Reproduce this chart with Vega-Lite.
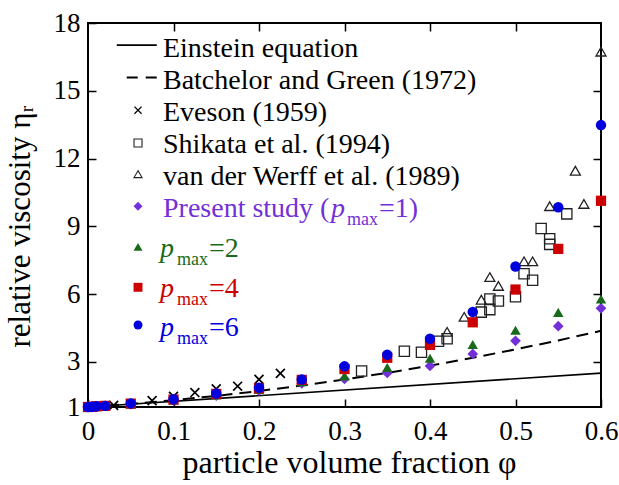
{
  "$schema": "https://vega.github.io/schema/vega-lite/v6.json",
  "width": 513,
  "height": 384,
  "autosize": "none",
  "padding": {"left": 88, "top": 23, "right": 18, "bottom": 78},
  "background": "white",
  "config": {
    "view": {"stroke": "black", "strokeWidth": 2},
    "font": "Liberation Serif",
    "axis": {
      "grid": false, "domain": false, "tickColor": "black", "tickWidth": 1.5, "tickSize": -8,
      "labelFont": "Liberation Serif", "labelFontSize": 27, "labelColor": "black",
      "labelFlush": false, "labelOverlap": false, "labelBound": false,
      "titleFont": "Liberation Serif", "titleFontSize": 31, "titleFontWeight": "normal", "titleColor": "black"
    }
  },
  "datasets": {
    "curves": [
      {"series": "Einstein", "phi": 0, "eta": 1},
      {"series": "Einstein", "phi": 0.6, "eta": 2.5},
      {"series": "Batchelor", "phi": 0, "eta": 1},
      {"series": "Batchelor", "phi": 0.05, "eta": 1.138},
      {"series": "Batchelor", "phi": 0.1, "eta": 1.302},
      {"series": "Batchelor", "phi": 0.15, "eta": 1.492},
      {"series": "Batchelor", "phi": 0.2, "eta": 1.708},
      {"series": "Batchelor", "phi": 0.25, "eta": 1.95},
      {"series": "Batchelor", "phi": 0.3, "eta": 2.218},
      {"series": "Batchelor", "phi": 0.35, "eta": 2.512},
      {"series": "Batchelor", "phi": 0.4, "eta": 2.832},
      {"series": "Batchelor", "phi": 0.45, "eta": 3.178},
      {"series": "Batchelor", "phi": 0.5, "eta": 3.55},
      {"series": "Batchelor", "phi": 0.55, "eta": 3.948},
      {"series": "Batchelor", "phi": 0.6, "eta": 4.372}
    ],
    "pts": [
      {"series": "Eveson", "phi": 0.03, "eta": 1.07},
      {"series": "Eveson", "phi": 0.075, "eta": 1.28},
      {"series": "Eveson", "phi": 0.1, "eta": 1.47},
      {"series": "Eveson", "phi": 0.125, "eta": 1.64},
      {"series": "Eveson", "phi": 0.15, "eta": 1.8},
      {"series": "Eveson", "phi": 0.175, "eta": 1.92},
      {"series": "Eveson", "phi": 0.2, "eta": 2.22},
      {"series": "Eveson", "phi": 0.225, "eta": 2.49},
      {"series": "Shikata", "phi": 0.32, "eta": 2.59},
      {"series": "Shikata", "phi": 0.37, "eta": 3.47},
      {"series": "Shikata", "phi": 0.39, "eta": 3.42},
      {"series": "Shikata", "phi": 0.41, "eta": 3.91},
      {"series": "Shikata", "phi": 0.42, "eta": 4.02},
      {"series": "Shikata", "phi": 0.46, "eta": 5.2},
      {"series": "Shikata", "phi": 0.47, "eta": 5.31},
      {"series": "Shikata", "phi": 0.47, "eta": 5.78},
      {"series": "Shikata", "phi": 0.48, "eta": 5.69},
      {"series": "Shikata", "phi": 0.5, "eta": 5.88},
      {"series": "Shikata", "phi": 0.51, "eta": 6.9},
      {"series": "Shikata", "phi": 0.52, "eta": 6.61},
      {"series": "Shikata", "phi": 0.53, "eta": 8.9},
      {"series": "Shikata", "phi": 0.54, "eta": 8.45},
      {"series": "Shikata", "phi": 0.54, "eta": 8.2},
      {"series": "Shikata", "phi": 0.56, "eta": 9.55},
      {"series": "Werff", "phi": 0.42, "eta": 4.33},
      {"series": "Werff", "phi": 0.44, "eta": 4.99},
      {"series": "Werff", "phi": 0.46, "eta": 5.75},
      {"series": "Werff", "phi": 0.47, "eta": 6.75},
      {"series": "Werff", "phi": 0.48, "eta": 6.36},
      {"series": "Werff", "phi": 0.51, "eta": 7.45},
      {"series": "Werff", "phi": 0.52, "eta": 7.45},
      {"series": "Werff", "phi": 0.54, "eta": 9.89},
      {"series": "Werff", "phi": 0.57, "eta": 11.46},
      {"series": "Werff", "phi": 0.58, "eta": 9.99},
      {"series": "Werff", "phi": 0.6, "eta": 16.73},
      {"series": "p1", "phi": 0, "eta": 1.0},
      {"series": "p1", "phi": 0.005, "eta": 1.01},
      {"series": "p1", "phi": 0.01, "eta": 1.03},
      {"series": "p1", "phi": 0.02, "eta": 1.05},
      {"series": "p1", "phi": 0.05, "eta": 1.13},
      {"series": "p1", "phi": 0.1, "eta": 1.29},
      {"series": "p1", "phi": 0.15, "eta": 1.5},
      {"series": "p1", "phi": 0.2, "eta": 1.72},
      {"series": "p1", "phi": 0.25, "eta": 2.05},
      {"series": "p1", "phi": 0.3, "eta": 2.24},
      {"series": "p1", "phi": 0.35, "eta": 2.51},
      {"series": "p1", "phi": 0.4, "eta": 2.82},
      {"series": "p1", "phi": 0.45, "eta": 3.35},
      {"series": "p1", "phi": 0.5, "eta": 3.93},
      {"series": "p1", "phi": 0.55, "eta": 4.58},
      {"series": "p1", "phi": 0.6, "eta": 5.37},
      {"series": "p2", "phi": 0, "eta": 1.0},
      {"series": "p2", "phi": 0.005, "eta": 1.01},
      {"series": "p2", "phi": 0.01, "eta": 1.03},
      {"series": "p2", "phi": 0.02, "eta": 1.05},
      {"series": "p2", "phi": 0.05, "eta": 1.14},
      {"series": "p2", "phi": 0.1, "eta": 1.31},
      {"series": "p2", "phi": 0.15, "eta": 1.53},
      {"series": "p2", "phi": 0.2, "eta": 1.78},
      {"series": "p2", "phi": 0.25, "eta": 2.12},
      {"series": "p2", "phi": 0.3, "eta": 2.37},
      {"series": "p2", "phi": 0.35, "eta": 2.75},
      {"series": "p2", "phi": 0.4, "eta": 3.16},
      {"series": "p2", "phi": 0.45, "eta": 3.77},
      {"series": "p2", "phi": 0.5, "eta": 4.4},
      {"series": "p2", "phi": 0.55, "eta": 5.19},
      {"series": "p2", "phi": 0.6, "eta": 5.78},
      {"series": "p4", "phi": 0, "eta": 1.0},
      {"series": "p4", "phi": 0.005, "eta": 1.01},
      {"series": "p4", "phi": 0.01, "eta": 1.03},
      {"series": "p4", "phi": 0.02, "eta": 1.05},
      {"series": "p4", "phi": 0.05, "eta": 1.15},
      {"series": "p4", "phi": 0.1, "eta": 1.33},
      {"series": "p4", "phi": 0.15, "eta": 1.58},
      {"series": "p4", "phi": 0.2, "eta": 1.83},
      {"series": "p4", "phi": 0.25, "eta": 2.2},
      {"series": "p4", "phi": 0.3, "eta": 2.68},
      {"series": "p4", "phi": 0.35, "eta": 3.18},
      {"series": "p4", "phi": 0.4, "eta": 3.75},
      {"series": "p4", "phi": 0.45, "eta": 4.75},
      {"series": "p4", "phi": 0.5, "eta": 6.2},
      {"series": "p4", "phi": 0.55, "eta": 8.0},
      {"series": "p4", "phi": 0.6, "eta": 10.13},
      {"series": "p6", "phi": 0, "eta": 1.0},
      {"series": "p6", "phi": 0.005, "eta": 1.01},
      {"series": "p6", "phi": 0.01, "eta": 1.03},
      {"series": "p6", "phi": 0.02, "eta": 1.05},
      {"series": "p6", "phi": 0.05, "eta": 1.16},
      {"series": "p6", "phi": 0.1, "eta": 1.34},
      {"series": "p6", "phi": 0.15, "eta": 1.6},
      {"series": "p6", "phi": 0.2, "eta": 1.85},
      {"series": "p6", "phi": 0.25, "eta": 2.22},
      {"series": "p6", "phi": 0.3, "eta": 2.8},
      {"series": "p6", "phi": 0.35, "eta": 3.31},
      {"series": "p6", "phi": 0.4, "eta": 4.02},
      {"series": "p6", "phi": 0.45, "eta": 5.21},
      {"series": "p6", "phi": 0.5, "eta": 7.22},
      {"series": "p6", "phi": 0.55, "eta": 9.84},
      {"series": "p6", "phi": 0.6, "eta": 13.48}
    ],
    "leglines": [
      {"series": "Einstein", "phi": 0.0336, "eta": 17.02},
      {"series": "Einstein", "phi": 0.0804, "eta": 17.02},
      {"series": "Batchelor", "phi": 0.0453, "eta": 15.59},
      {"series": "Batchelor", "phi": 0.0804, "eta": 15.59}
    ],
    "legsym": [
      {"series": "Eveson", "phi": 0.0585, "eta": 14.14},
      {"series": "Shikata", "phi": 0.0585, "eta": 12.69},
      {"series": "Werff", "phi": 0.0585, "eta": 11.31},
      {"series": "p1", "phi": 0.0585, "eta": 9.89},
      {"series": "p2", "phi": 0.0585, "eta": 8.09},
      {"series": "p4", "phi": 0.0585, "eta": 6.3},
      {"series": "p6", "phi": 0.0585, "eta": 4.63}
    ],
    "legtext": [
      {"series": "Einstein", "phi": 0.0877, "eta": 16.5, "label": "Einstein equation"},
      {"series": "Batchelor", "phi": 0.0877, "eta": 15.07, "label": "Batchelor and Green (1972)"},
      {"series": "Eveson", "phi": 0.0877, "eta": 13.67, "label": "Eveson (1959)"},
      {"series": "Shikata", "phi": 0.0877, "eta": 12.23, "label": "Shikata et al. (1994)"},
      {"series": "Werff", "phi": 0.0877, "eta": 10.82, "label": "van der Werff et al. (1989)"},
      {"series": "p1", "phi": 0.0877, "eta": 9.43, "label": "Present study ("}
    ],
    "legsub": [
      {"series": "p1", "phi": 0.0877, "eta": 9.43, "post": "=1)"},
      {"series": "p2", "phi": 0.0877, "eta": 7.65, "post": "=2"},
      {"series": "p4", "phi": 0.0877, "eta": 5.88, "post": "=4"},
      {"series": "p6", "phi": 0.0877, "eta": 4.15, "post": "=6"}
    ]
  },
  "layer": [
    {
      "layer": [
        {
          "data": {"name": "curves"},
          "transform": [{"filter": "datum.series == 'Einstein'"}],
          "mark": {"type": "line", "color": "black", "strokeWidth": 1.6},
          "encoding": {
            "x": {
              "field": "phi", "type": "quantitative",
              "scale": {"domain": [0, 0.6], "nice": false, "zero": false},
              "axis": {
                "values": [0, 0.1, 0.2, 0.3, 0.4, 0.5, 0.6],
                "labelExpr": "datum.value == 0 ? '0' : format(datum.value, '.1f')",
                "labelPadding": 19,
                "title": "particle volume fraction   φ",
                "titleFontSize": 32,
                "titleBaseline": "alphabetic",
                "titleX": 261,
                "titleY": 65
              }
            },
            "y": {
              "field": "eta", "type": "quantitative",
              "scale": {"domain": [1, 18], "nice": false, "zero": false},
              "axis": {
                "values": [1, 3, 6, 9, 12, 15, 18],
                "labelPadding": 16,
                "title": "relative viscosity  ηᵣ",
                "titleBaseline": "alphabetic",
                "titleAlign": "center",
                "titleX": -59,
                "titleY": 203
              }
            }
          }
        },
        {
          "data": {"name": "curves"},
          "transform": [{"filter": "datum.series == 'Batchelor'"}],
          "mark": {"type": "line", "color": "black", "strokeWidth": 2, "strokeDash": [12, 7]},
          "encoding": {
            "x": {"field": "phi", "type": "quantitative"},
            "y": {"field": "eta", "type": "quantitative"}
          }
        },
        {
          "data": {"name": "leglines"},
          "transform": [{"filter": "datum.series == 'Einstein'"}],
          "mark": {"type": "line", "color": "black", "strokeWidth": 1.6},
          "encoding": {
            "x": {"field": "phi", "type": "quantitative"},
            "y": {"field": "eta", "type": "quantitative"}
          }
        },
        {
          "data": {"name": "leglines"},
          "transform": [{"filter": "datum.series == 'Batchelor'"}],
          "mark": {"type": "line", "color": "black", "strokeWidth": 2, "strokeDash": [11, 8]},
          "encoding": {
            "x": {"field": "phi", "type": "quantitative"},
            "y": {"field": "eta", "type": "quantitative"}
          }
        },
        {
          "data": {"name": "pts"},
          "transform": [{"filter": "datum.series == 'Shikata'"}],
          "mark": {"type": "point", "shape": "square", "filled": false, "stroke": "#222222", "strokeWidth": 1.3, "size": 105, "opacity": 1},
          "encoding": {
            "x": {"field": "phi", "type": "quantitative"},
            "y": {"field": "eta", "type": "quantitative"}
          }
        },
        {
          "data": {"name": "pts"},
          "transform": [{"filter": "datum.series == 'Werff'"}],
          "mark": {"type": "point", "shape": "triangle-up", "filled": false, "stroke": "#222222", "strokeWidth": 1.3, "size": 100, "opacity": 1},
          "encoding": {
            "x": {"field": "phi", "type": "quantitative"},
            "y": {"field": "eta", "type": "quantitative"}
          }
        },
        {
          "data": {"name": "pts"},
          "transform": [{"filter": "datum.series == 'Eveson'"}],
          "mark": {"type": "point", "shape": "M-1,-1L1,1M-1,1L1,-1", "filled": false, "stroke": "black", "strokeWidth": 1.7, "size": 80, "opacity": 1},
          "encoding": {
            "x": {"field": "phi", "type": "quantitative"},
            "y": {"field": "eta", "type": "quantitative"}
          }
        },
        {
          "data": {"name": "pts"},
          "transform": [{"filter": "datum.series == 'p1'"}],
          "mark": {"type": "point", "shape": "diamond", "filled": true, "fill": "#7330d8", "size": 115, "opacity": 1},
          "encoding": {
            "x": {"field": "phi", "type": "quantitative"},
            "y": {"field": "eta", "type": "quantitative"}
          }
        },
        {
          "data": {"name": "pts"},
          "transform": [{"filter": "datum.series == 'p2'"}],
          "mark": {"type": "point", "shape": "triangle-up", "filled": true, "fill": "#186a1a", "size": 110, "opacity": 1},
          "encoding": {
            "x": {"field": "phi", "type": "quantitative"},
            "y": {"field": "eta", "type": "quantitative"}
          }
        },
        {
          "data": {"name": "pts"},
          "transform": [{"filter": "datum.series == 'p4'"}],
          "mark": {"type": "point", "shape": "square", "filled": true, "fill": "#cc0000", "size": 105, "opacity": 1},
          "encoding": {
            "x": {"field": "phi", "type": "quantitative"},
            "y": {"field": "eta", "type": "quantitative"}
          }
        },
        {
          "data": {"name": "pts"},
          "transform": [{"filter": "datum.series == 'p6'"}],
          "mark": {"type": "point", "shape": "circle", "filled": true, "fill": "#0000dd", "size": 110, "opacity": 1},
          "encoding": {
            "x": {"field": "phi", "type": "quantitative"},
            "y": {"field": "eta", "type": "quantitative"}
          }
        },
        {
          "data": {"name": "legsym"},
          "transform": [{"filter": "datum.series == 'Eveson'"}],
          "mark": {"type": "point", "shape": "M-1,-1L1,1M-1,1L1,-1", "filled": false, "stroke": "black", "strokeWidth": 1.3, "size": 50, "opacity": 1},
          "encoding": {
            "x": {"field": "phi", "type": "quantitative"},
            "y": {"field": "eta", "type": "quantitative"}
          }
        },
        {
          "data": {"name": "legsym"},
          "transform": [{"filter": "datum.series == 'Shikata'"}],
          "mark": {"type": "point", "shape": "square", "filled": false, "stroke": "#222222", "strokeWidth": 1.1, "size": 64, "opacity": 1},
          "encoding": {
            "x": {"field": "phi", "type": "quantitative"},
            "y": {"field": "eta", "type": "quantitative"}
          }
        },
        {
          "data": {"name": "legsym"},
          "transform": [{"filter": "datum.series == 'Werff'"}],
          "mark": {"type": "point", "shape": "triangle-up", "filled": false, "stroke": "#222222", "strokeWidth": 1.1, "size": 64, "opacity": 1},
          "encoding": {
            "x": {"field": "phi", "type": "quantitative"},
            "y": {"field": "eta", "type": "quantitative"}
          }
        },
        {
          "data": {"name": "legsym"},
          "transform": [{"filter": "indexof(['p1','p2','p4','p6'], datum.series) >= 0"}],
          "mark": {"type": "point", "filled": true, "size": 80, "opacity": 1},
          "encoding": {
            "x": {"field": "phi", "type": "quantitative"},
            "y": {"field": "eta", "type": "quantitative"},
            "shape": {"field": "series", "type": "nominal", "scale": {"domain": ["p1", "p2", "p4", "p6"], "range": ["diamond", "triangle-up", "square", "circle"]}, "legend": null},
            "color": {"field": "series", "type": "nominal", "scale": {"domain": ["Einstein", "Batchelor", "Eveson", "Shikata", "Werff", "p1", "p2", "p4", "p6"], "range": ["black", "black", "black", "black", "black", "#7330d8", "#186a1a", "#cc0000", "#0000dd"]}, "legend": null}
          }
        },
        {
          "data": {"name": "legtext"},
          "mark": {"type": "text", "align": "left", "baseline": "alphabetic", "font": "Liberation Serif", "fontSize": 28},
          "encoding": {
            "x": {"field": "phi", "type": "quantitative"},
            "y": {"field": "eta", "type": "quantitative"},
            "text": {"field": "label"},
            "color": {"field": "series", "type": "nominal", "scale": {"domain": ["Einstein", "Batchelor", "Eveson", "Shikata", "Werff", "p1", "p2", "p4", "p6"], "range": ["black", "black", "black", "black", "black", "#7330d8", "#186a1a", "#cc0000", "#0000dd"]}, "legend": null}
          }
        },
        {
          "data": {"name": "legsub"},
          "transform": [{"filter": "datum.series == 'p1'"}],
          "mark": {"type": "text", "text": "p", "align": "left", "baseline": "alphabetic", "font": "Liberation Serif", "fontStyle": "italic", "fontSize": 28, "dx": 168},
          "encoding": {
            "x": {"field": "phi", "type": "quantitative"},
            "y": {"field": "eta", "type": "quantitative"},
            "color": {"field": "series", "type": "nominal", "scale": {"domain": ["Einstein", "Batchelor", "Eveson", "Shikata", "Werff", "p1", "p2", "p4", "p6"], "range": ["black", "black", "black", "black", "black", "#7330d8", "#186a1a", "#cc0000", "#0000dd"]}, "legend": null}
          }
        },
        {
          "data": {"name": "legsub"},
          "transform": [{"filter": "datum.series == 'p1'"}],
          "mark": {"type": "text", "text": "max", "align": "left", "baseline": "alphabetic", "font": "Liberation Serif", "fontSize": 18, "dx": 184, "dy": 8},
          "encoding": {
            "x": {"field": "phi", "type": "quantitative"},
            "y": {"field": "eta", "type": "quantitative"},
            "color": {"field": "series", "type": "nominal", "scale": {"domain": ["Einstein", "Batchelor", "Eveson", "Shikata", "Werff", "p1", "p2", "p4", "p6"], "range": ["black", "black", "black", "black", "black", "#7330d8", "#186a1a", "#cc0000", "#0000dd"]}, "legend": null}
          }
        },
        {
          "data": {"name": "legsub"},
          "transform": [{"filter": "datum.series == 'p1'"}],
          "mark": {"type": "text", "align": "left", "baseline": "alphabetic", "font": "Liberation Serif", "fontSize": 28, "dx": 216},
          "encoding": {
            "x": {"field": "phi", "type": "quantitative"},
            "y": {"field": "eta", "type": "quantitative"},
            "text": {"field": "post"},
            "color": {"field": "series", "type": "nominal", "scale": {"domain": ["Einstein", "Batchelor", "Eveson", "Shikata", "Werff", "p1", "p2", "p4", "p6"], "range": ["black", "black", "black", "black", "black", "#7330d8", "#186a1a", "#cc0000", "#0000dd"]}, "legend": null}
          }
        },
        {
          "data": {"name": "legsub"},
          "transform": [{"filter": "datum.series != 'p1'"}],
          "mark": {"type": "text", "text": "p", "align": "left", "baseline": "alphabetic", "font": "Liberation Serif", "fontStyle": "italic", "fontSize": 28, "dx": -3},
          "encoding": {
            "x": {"field": "phi", "type": "quantitative"},
            "y": {"field": "eta", "type": "quantitative"},
            "color": {"field": "series", "type": "nominal", "scale": {"domain": ["Einstein", "Batchelor", "Eveson", "Shikata", "Werff", "p1", "p2", "p4", "p6"], "range": ["black", "black", "black", "black", "black", "#7330d8", "#186a1a", "#cc0000", "#0000dd"]}, "legend": null}
          }
        },
        {
          "data": {"name": "legsub"},
          "transform": [{"filter": "datum.series != 'p1'"}],
          "mark": {"type": "text", "text": "max", "align": "left", "baseline": "alphabetic", "font": "Liberation Serif", "fontSize": 18, "dx": 14, "dy": 8},
          "encoding": {
            "x": {"field": "phi", "type": "quantitative"},
            "y": {"field": "eta", "type": "quantitative"},
            "color": {"field": "series", "type": "nominal", "scale": {"domain": ["Einstein", "Batchelor", "Eveson", "Shikata", "Werff", "p1", "p2", "p4", "p6"], "range": ["black", "black", "black", "black", "black", "#7330d8", "#186a1a", "#cc0000", "#0000dd"]}, "legend": null}
          }
        },
        {
          "data": {"name": "legsub"},
          "transform": [{"filter": "datum.series != 'p1'"}],
          "mark": {"type": "text", "align": "left", "baseline": "alphabetic", "font": "Liberation Serif", "fontSize": 28, "dx": 46},
          "encoding": {
            "x": {"field": "phi", "type": "quantitative"},
            "y": {"field": "eta", "type": "quantitative"},
            "text": {"field": "post"},
            "color": {"field": "series", "type": "nominal", "scale": {"domain": ["Einstein", "Batchelor", "Eveson", "Shikata", "Werff", "p1", "p2", "p4", "p6"], "range": ["black", "black", "black", "black", "black", "#7330d8", "#186a1a", "#cc0000", "#0000dd"]}, "legend": null}
          }
        }
      ]
    },
    {
      "data": {"name": "curves"},
      "mark": {"type": "point", "opacity": 0},
      "encoding": {
        "x": {
          "field": "phi", "type": "quantitative",
          "scale": {"domain": [0, 0.6], "nice": false, "zero": false},
          "axis": {"orient": "top", "values": [0.1, 0.2, 0.3, 0.4, 0.5], "labels": false, "title": null}
        },
        "y": {
          "field": "eta", "type": "quantitative",
          "scale": {"domain": [1, 18], "nice": false, "zero": false},
          "axis": {"orient": "right", "values": [3, 6, 9, 12, 15], "labels": false, "title": null}
        }
      }
    }
  ],
  "resolve": {"axis": {"x": "independent", "y": "independent"}}
}
